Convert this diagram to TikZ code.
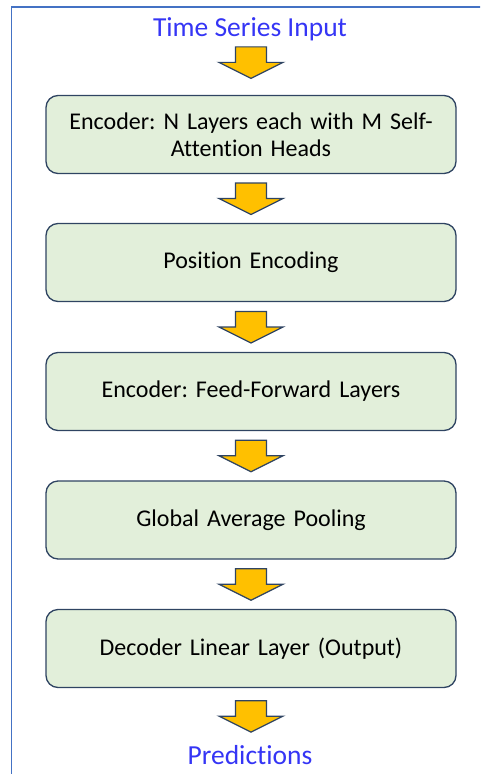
\documentclass[tikz,border=0pt]{standalone}
\usepackage{fontspec}
\setmainfont{Carlito}[Ligatures=NoCommon]
\usetikzlibrary{calc}
\frenchspacing
\definecolor{boxfill}{HTML}{E2EFDA}
\definecolor{boxline}{HTML}{2F4462}
\definecolor{arrfill}{HTML}{FFC000}
\definecolor{titleblue}{HTML}{3535F5}
\definecolor{framecol}{HTML}{4472C4}
\tikzset{
  stagebox/.style={draw=boxline, line width=1.3pt, fill=boxfill, rounded corners=12pt,
    minimum width=410pt, minimum height=78pt, align=center, text width=400pt,
    font=\fontsize{24}{27}\selectfont\frenchspacing, inner sep=0pt},
  titletext/.style={text=titleblue, font=\fontsize{27.5}{32}\selectfont, anchor=base, inner sep=0pt},
  blockarrow/.style={draw=boxline, line width=1.2pt, fill=arrfill, line join=miter},
}
\newcommand\blockarr[1]{%
  \draw[blockarrow] ($(#1)+(-15.5,-15.5)$) -- ($(#1)+(15.5,-15.5)$) -- ($(#1)+(15.5,0)$)
    -- ($(#1)+(32,0)$) -- ($(#1)+(0,16)$) -- ($(#1)+(-32,0)$) -- ($(#1)+(-15.5,0)$) -- cycle;}
\begin{document}
\begin{tikzpicture}[x=1pt,y=-1pt]
\useasboundingbox (0,0) rectangle (480,774);
\clip (0,0) rectangle (480,774);
\draw[framecol, line width=1.6pt] (11.5,780) -- (11.5,7) -- (490,7);
\node[titletext] (in) at (250,36) {Time Series Input};
\node[stagebox] (b1) at (251,134.5) {Encoder: N Layers each with M Self-\\Attention Heads};
\node[stagebox] (b2) at (251,262.5) {Position Encoding};
\node[stagebox] (b3) at (251,391.5) {Encoder: Feed-Forward Layers};
\node[stagebox] (b4) at (251,520) {Global Average Pooling};
\node[stagebox] (b5) at (251,648.5) {Decoder Linear Layer (Output)};
\node[titletext] (out) at (250,764) {Predictions};
\coordinate (a1) at ($(b1.north)+(0,-32.5)$);
\path (b1.south) -- (b2.north) coordinate[pos=0.5] (a2);
\path (b2.south) -- (b3.north) coordinate[pos=0.5] (a3);
\path (b3.south) -- (b4.north) coordinate[pos=0.5] (a4);
\path (b4.south) -- (b5.north) coordinate[pos=0.5] (a5);
\coordinate (a6) at ($(b5.south)+(0,28)$);
\blockarr{a1}
\blockarr{a2}
\blockarr{a3}
\blockarr{a4}
\blockarr{a5}
\blockarr{a6}
\end{tikzpicture}
\end{document}
